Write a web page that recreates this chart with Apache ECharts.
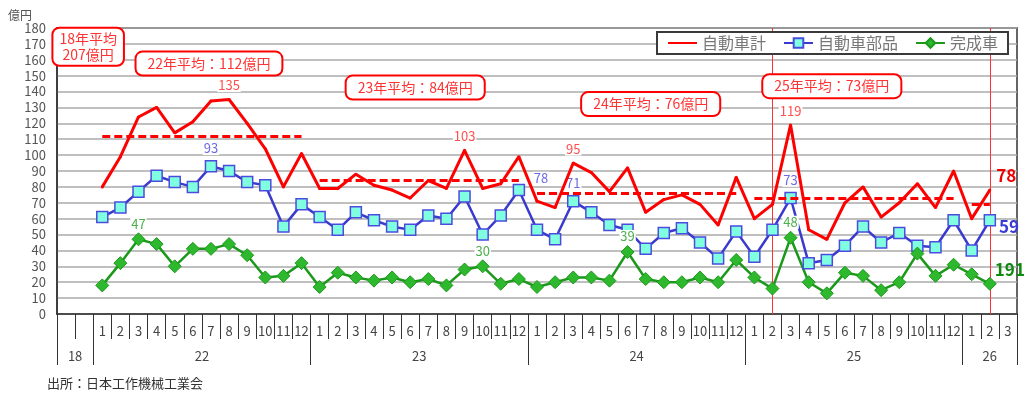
<!DOCTYPE html>
<html><head><meta charset="utf-8">
<script src="https://cdn.jsdelivr.net/npm/echarts@6/dist/echarts.min.js"></script>
<style>html,body{margin:0;padding:0;background:#fff}#c{width:1024px;height:394px}</style>
</head><body><div id="c"></div>
<script>
// ---- data ----
const yearNames = ['18', '22', '23', '24', '25', '26'];
const monthLabels = [
  ['', ''],
  ['1','2','3','4','5','6','7','8','9','10','11','12'],
  ['1','2','3','4','5','6','7','8','9','10','11','12'],
  ['1','2','3','4','5','6','7','8','9','10','11','12'],
  ['1','2','3','4','5','6','7','8','9','10','11','12'],
  ['1','2','3']
];
const seriesNames = ['自動車計', '自動車部品', '完成車'];
const totalValues = [null, null,
  80, 99, 124, 130, 114, 121, 134, 135, 120, 104, 80, 101,
  79, 79, 88, 81, 78, 73, 84, 79, 103, 79, 82, 99,
  71, 67, 95, 89, 77, 92, 64, 72, 75, 69, 56, 86,
  60, 69, 119, 53, 47, 70, 80, 61, 70, 82, 67, 90,
  60, 78, null];
const partsValues = [null, null,
  61, 67, 77, 87, 83, 80, 93, 90, 83, 81, 55, 69,
  61, 53, 64, 59, 55, 53, 62, 60, 74, 50, 62, 78,
  53, 47, 71, 64, 56, 53, 41, 51, 54, 45, 35, 52,
  36, 53, 73, 32, 34, 43, 55, 45, 51, 43, 42, 59,
  40, 59, null];
const carValues = [null, null,
  18, 32, 47, 44, 30, 41, 41, 44, 37, 23, 24, 32,
  17, 26, 23, 21, 23, 20, 22, 18, 28, 30, 19, 22,
  17, 20, 23, 23, 21, 39, 22, 20, 20, 23, 20, 34,
  23, 16, 48, 20, 13, 26, 24, 15, 20, 38, 24, 31,
  25, 19, null];
const avgYears = ['22', '23', '24', '25', '26'];
const avgValues = [112, 84, 76, 73, 69];
const noteTexts = ['18年平均\n207億円', '22年平均：112億円', '23年平均：84億円', '24年平均：76億円', '25年平均：73億円'];
const totalLabelKeys = ['22-7', '23-8', '24-2', '25-2'];
const partsLabelKeys = ['22-6', '23-11', '24-2', '25-2'];
const carLabelKeys = ['22-2', '23-9', '24-5', '25-2'];
const endKey = '26-1';
const endTexts = ['78', '59', '191'];
const markerKeys = ['25-1', '26-1'];

// ---- layout / style ----
const FONT = '"Noto Sans CJK JP", "Noto Sans", sans-serif';
const noteAnchors = [
  { key: '18-1', y: 168.2, dx: 4, pad: [2, 6] },
  { key: '22-6', y: 157.6, dx: -2, pad: [3, 11] },
  { key: '23-5', y: 142.5, dx: 5, pad: [3, 11] },
  { key: '24-6', y: 132.1, dx: 5, pad: [3, 11] },
  { key: '25-4', y: 143.4, dx: 5, pad: [3, 11] }
];

// ---- build categories ----
const cats = [], catMonth = {}, yearRanges = [];
yearNames.forEach((y, i) => {
  const start = cats.length;
  monthLabels[i].forEach((m, j) => { const k = y + '-' + j; cats.push(k); catMonth[k] = m; });
  yearRanges.push({ year: y, start, end: cats.length });
});
const N = cats.length;
const yearAxisData = Array.from({ length: 2 * N + 1 }, (_, k) => 'b' + k);
const tickSet = new Set(); const yearLabelAt = {};
yearRanges.forEach(r => { tickSet.add(2 * r.start); tickSet.add(2 * r.end); yearLabelAt[r.start + r.end] = r.year; });

function buildData(vals, keys, labelStyle, endStyle, endText, special) {
  return vals.map((v, i) => {
    const k = cats[i];
    if (v == null) return null;
    if (keys.includes(k)) {
      const lab = Object.assign({ show: true }, labelStyle, (special && special[k]) || {});
      return { value: v, label: lab };
    }
    if (k === endKey) {
      return { value: v, label: Object.assign({ show: true, formatter: endText }, endStyle) };
    }
    return v;
  });
}
const smallLab = (color, dist) => ({ position: 'top', distance: dist, color, fontSize: 13, fontFamily: FONT, backgroundColor: '#fff', padding: [0, 1] });
const endLab = (color, dist, off) => ({ position: 'right', distance: dist, offset: off, color, fontSize: 17, fontWeight: 'bold', fontFamily: FONT });

// average dashed segments
const avgLines = avgYears.map((y, i) => {
  const idxs = cats.map((k, j) => j).filter(j => cats[j].startsWith(y + '-') && totalValues[j] != null);
  return [{ coord: [cats[idxs[0]], avgValues[i]] }, { coord: [cats[idxs[idxs.length - 1]], avgValues[i]] }];
});

const chart = echarts.init(document.getElementById('c'), null, { renderer: 'canvas' });
chart.setOption({
  animation: false,
  backgroundColor: '#fff',
  textStyle: { fontFamily: FONT },
  title: [
    { text: '億円', left: 3, top: 4, textStyle: { fontSize: 12, color: '#555', fontWeight: 'normal', fontFamily: FONT } },
    { text: '出所：日本工作機械工業会', left: 42, top: 372, textStyle: { fontSize: 13, color: '#333', fontWeight: 'normal', fontFamily: FONT } }
  ],
  legend: {
    data: [
      { name: seriesNames[0], itemStyle: { opacity: 0 } },
      { name: seriesNames[1] },
      { name: seriesNames[2] }
    ],
    right: 16, top: 32, z: 20,
    itemWidth: 29, itemHeight: 12, itemGap: 17,
    padding: [3, 10], borderColor: '#3a3a3a', borderWidth: 2, backgroundColor: '#fff',
    textStyle: { fontSize: 16, color: '#777', fontFamily: FONT }
  },
  grid: { left: 57, right: 7, top: 28, bottom: 80, show: true, borderColor: '#333', borderWidth: 1.5, containLabel: false, outerBoundsMode: 'none' },
  xAxis: [
    {
      type: 'category', data: cats, boundaryGap: true,
      axisLine: { show: true, lineStyle: { color: '#333', width: 1.5 } },
      axisTick: { show: true, interval: 0, length: 25, lineStyle: { color: '#333', width: 1 } },
      axisLabel: { interval: 0, formatter: v => catMonth[v], fontSize: 13, color: '#444', margin: 11, fontFamily: FONT },
      splitLine: { show: false }
    },
    {
      type: 'category', data: yearAxisData, boundaryGap: false, position: 'bottom',
      axisLine: { show: false },
      axisTick: { show: true, interval: (idx) => tickSet.has(idx), length: 51, lineStyle: { color: '#333', width: 1 } },
      axisLabel: { interval: (idx) => yearLabelAt[idx] !== undefined, formatter: (v, idx) => yearLabelAt[idx] || '', fontSize: 13, color: '#444', margin: 36, fontFamily: FONT },
      splitLine: { show: false }
    }
  ],
  yAxis: {
    type: 'value', min: 0, max: 180, interval: 10,
    axisLine: { show: true, lineStyle: { color: '#333', width: 1.5 } },
    axisTick: { show: false },
    axisLabel: { fontSize: 13, color: '#555', margin: 11, fontFamily: FONT },
    splitLine: { show: true, lineStyle: { color: '#aaaaaa', width: 1.5 } }
  },
  series: [
    {
      type: 'line', data: [], silent: true,
      markLine: { silent: true, symbol: ['none', 'none'], z: 1, label: { show: false },
        lineStyle: { color: '#ff3030', width: 1, type: 'solid' },
        data: markerKeys.map(k => ({ xAxis: k })) }
    },
    {
      name: seriesNames[1], type: 'line', z: 3,
      data: buildData(partsValues, partsLabelKeys, smallLab('#6b6be6', 5), endLab('#3b3bd6', 3, [0, 6]), endTexts[1],
        { '23-11': { offset: [22, 6] } }),
      symbol: 'rect', symbolSize: 11,
      lineStyle: { color: '#3a3acc', width: 2.5 },
      itemStyle: { color: '#80ffe0', borderColor: '#4b4be0', borderWidth: 1.5 }
    },
    {
      name: seriesNames[2], type: 'line', z: 3,
      data: buildData(carValues, carLabelKeys, smallLab('#4caf4c', 2), endLab('#0f8a0f', 0, [-2, -14]), endTexts[2]),
      symbol: 'diamond', symbolSize: 13,
      lineStyle: { color: '#1a991a', width: 2.5 },
      itemStyle: { color: '#2db82d', borderColor: '#1c9a1c', borderWidth: 1 }
    },
    {
      name: seriesNames[0], type: 'line', z: 4,
      data: buildData(totalValues, totalLabelKeys, smallLab('#ff4f4f', 6), endLab('#f00000', 5, [0, -15]), endTexts[0]),
      symbol: 'circle', symbolSize: 3,
      lineStyle: { color: '#ff0000', width: 3 },
      itemStyle: { color: '#ff0000' },
      markLine: { silent: true, symbol: ['none', 'none'], z: 4, label: { show: false },
        lineStyle: { color: '#ff0000', width: 3, type: [8, 4] }, data: avgLines },
      markPoint: {
        z: 10, symbol: 'rect', symbolSize: 1, itemStyle: { color: 'transparent' },
        data: noteAnchors.map((a, i) => ({
          coord: [a.key, a.y], name: noteTexts[i],
          label: { show: true, position: 'inside', offset: [a.dx, 0], formatter: '{b}', color: '#ff3333', fontSize: 14,
            lineHeight: 16, fontFamily: FONT, backgroundColor: '#fff', borderColor: '#ff0000', borderWidth: 2,
            borderRadius: 6, padding: a.pad, align: 'center' }
        }))
      }
    }
  ]
});
</script></body></html>
